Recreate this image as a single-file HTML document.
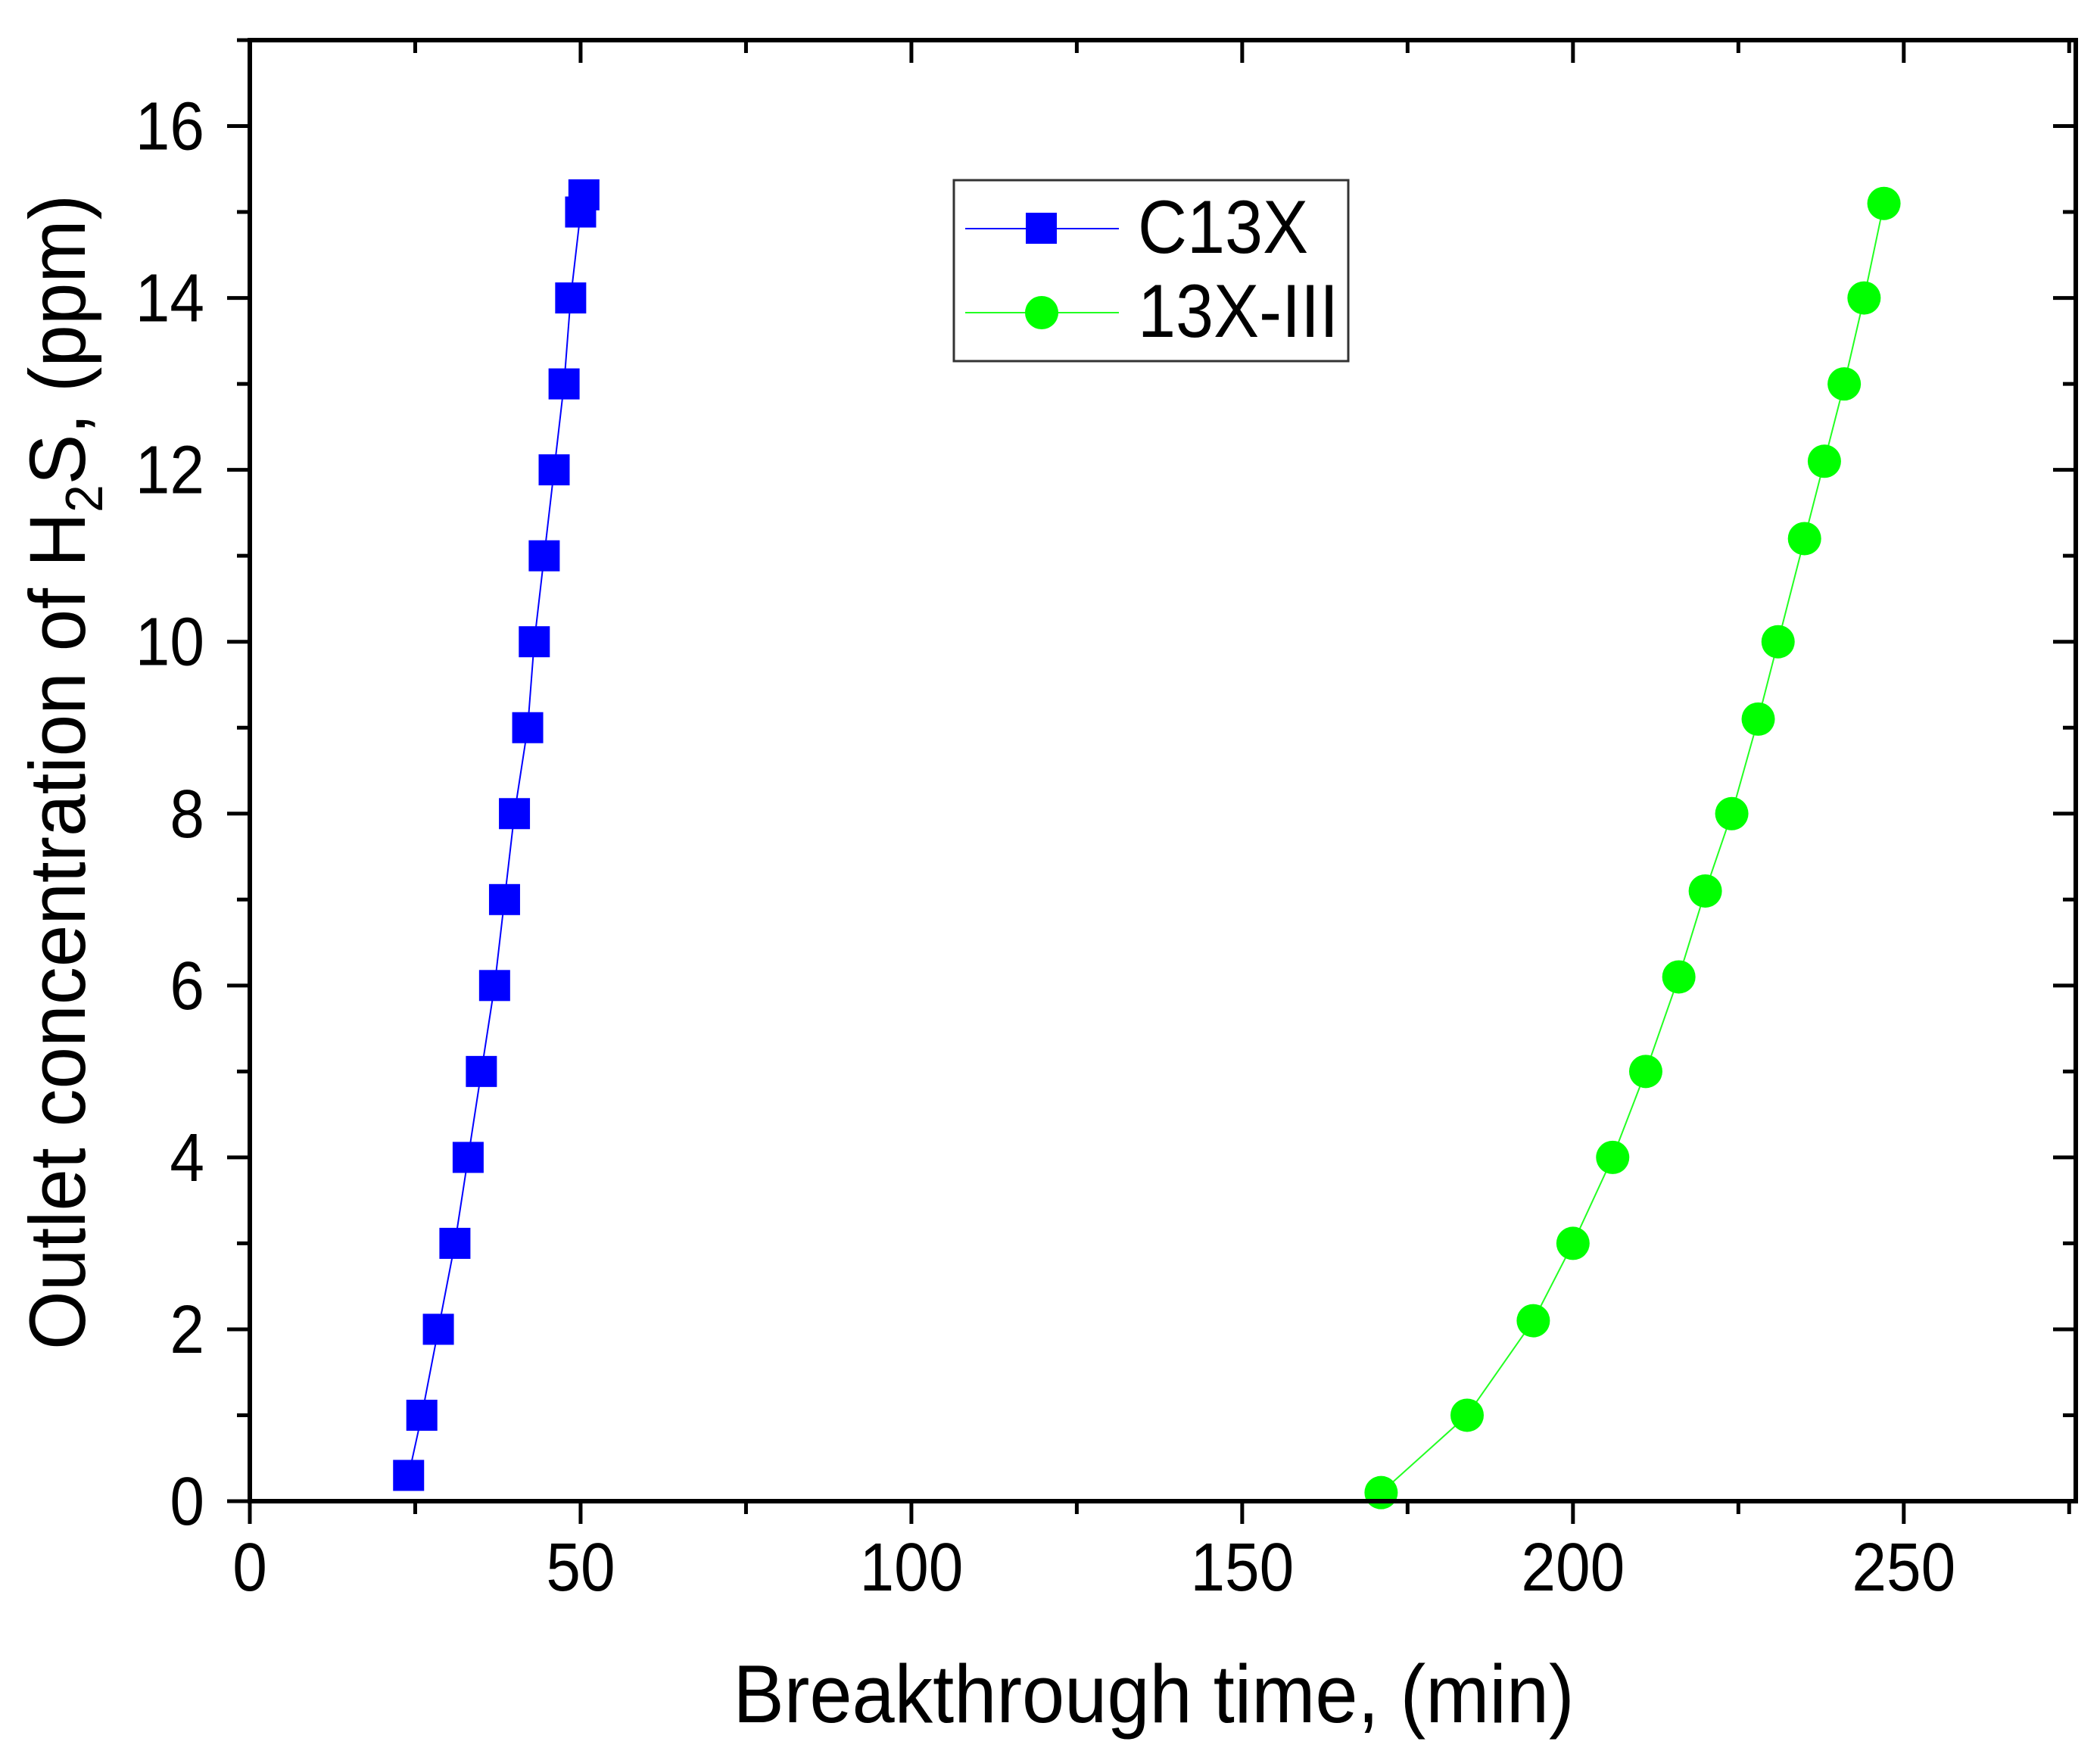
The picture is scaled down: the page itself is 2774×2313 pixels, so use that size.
<!DOCTYPE html>
<html><head><meta charset="utf-8"><style>
html,body{margin:0;padding:0;background:#fff;}
svg{display:block;font-family:"Liberation Sans",Arial,sans-serif;}
</style></head><body>
<svg id="chart" width="2774" height="2313" viewBox="0 0 2774 2313" xmlns="http://www.w3.org/2000/svg">
<g id="grid-layer"></g>
<g id="series-layer"></g>
<g id="axes-layer"></g>
<text x="1524" y="2275" font-size="101" text-anchor="middle" transform="translate(1524,2275) scale(1,1.08) translate(-1524,-2275)">Breakthrough time, (min)</text>
<text transform="translate(112,1020) rotate(-90) scale(1,1.05)" font-size="100" text-anchor="middle">Outlet concentration of H<tspan font-size="66" dy="22">2</tspan><tspan dy="-22">S, (ppm)</tspan></text>
<g>
<rect x="1260" y="238" width="521" height="239" fill="#fff" stroke="#333" stroke-width="3"/>
<g>
<line x1="1275" y1="302" x2="1478" y2="302" stroke="#0000ff" stroke-width="2"/>
<rect x="1355" y="281" width="41" height="41" fill="#0000ff"/>
<text x="1503" y="334" font-size="90" transform="translate(1503,334) scale(1,1.1) translate(-1503,-334)">C13X</text>
</g>
<g>
<line x1="1275" y1="413" x2="1478" y2="413" stroke="#22ff22" stroke-width="2"/>
<circle cx="1376" cy="413" r="22" fill="#00ff00"/>
<text x="1503" y="445" font-size="90" transform="translate(1503,445) scale(1,1.1) translate(-1503,-445)">13X-III</text>
</g>
</g>
</svg>
<script>
const c13xTime = [24,26,28.5,31,33,35,37,38.5,40,42,43,44.5,46,47.5,48.5,50,50.5];
const c13xConc = [0.3,1,2,3,4,5,6,7,8,9,10,11,12,13,14,15,15.2];
const x13Time = [171,184,194,200,206,211,216,220,224,228,231,235,238,241,244,247];
const x13Conc = [0.1,1,2.1,3,4,5,6.1,7.1,8,9.1,10,11.2,12.1,13,14,15.1];
const xTickLabels = [0,50,100,150,200,250];
const yTickLabels = [0,2,4,6,8,10,12,14,16];

const L=330,R=2742,T=53,B=1983,XMAX=276,YMAX=17;
const xs=v=>L+(v/XMAX)*(R-L);
const ys=v=>B-(v/YMAX)*(B-T);
const NS="http://www.w3.org/2000/svg";
function mk(tag,attrs,parent){const e=document.createElementNS(NS,tag);for(const k in attrs)e.setAttribute(k,attrs[k]);parent.appendChild(e);return e;}
const axes=document.getElementById('axes-layer');
const ser=document.getElementById('series-layer');

const frame=mk('rect',{x:L,y:T,width:R-L,height:B-T,fill:'none',stroke:'#000','stroke-width':6},axes);



for(let v=0;v<=275;v+=25){
  const major=v%50===0, len=major?30:17, x=xs(v);
  const t1=mk('line',{x1:x,y1:B,x2:x,y2:B+len,stroke:'#000','stroke-width':5},axes);
  
  
  const t2=mk('line',{x1:x,y1:T,x2:x,y2:T+len,stroke:'#000','stroke-width':5},axes);
  
  
}
xTickLabels.forEach(v=>{
  const t=mk('text',{x:xs(v),y:B+118,'font-size':82,'text-anchor':'middle',transform:`translate(${xs(v)},${B+118}) scale(1,1.1) translate(${-xs(v)},${-(B+118)})`},axes);
  t.textContent=v;
  
  
});
for(let v=0;v<=YMAX;v+=1){
  const major=v%2===0, len=major?30:17, y=ys(v);
  const t1=mk('line',{x1:L,y1:y,x2:L-len,y2:y,stroke:'#000','stroke-width':5},axes);
  
  
  const t2=mk('line',{x1:R,y1:y,x2:R-len,y2:y,stroke:'#000','stroke-width':5},axes);
  
  
}
yTickLabels.forEach(v=>{
  const yy=ys(v)+31;
  const t=mk('text',{x:L-60,y:yy,'font-size':82,'text-anchor':'end',transform:`translate(0,${yy}) scale(1,1.1) translate(0,${-yy})`},axes);
  t.textContent=v;
  
  
});

const p1=mk('polyline',{points:c13xTime.map((t,i)=>xs(t)+','+ys(c13xConc[i])).join(' '),fill:'none',stroke:'#0000ff','stroke-width':2},ser);


c13xTime.forEach((t,i)=>{
  const r=mk('rect',{x:xs(t)-20.5,y:ys(c13xConc[i])-20.5,width:41,height:41,fill:'#0000ff'},ser);
  
  
});
const p2=mk('polyline',{points:x13Time.map((t,i)=>xs(t)+','+ys(x13Conc[i])).join(' '),fill:'none',stroke:'#22ff22','stroke-width':2},ser);


x13Time.forEach((t,i)=>{
  const c=mk('circle',{cx:xs(t),cy:ys(x13Conc[i]),r:22,fill:'#00ff00'},ser);
  
  
});
</script>
</body></html>
